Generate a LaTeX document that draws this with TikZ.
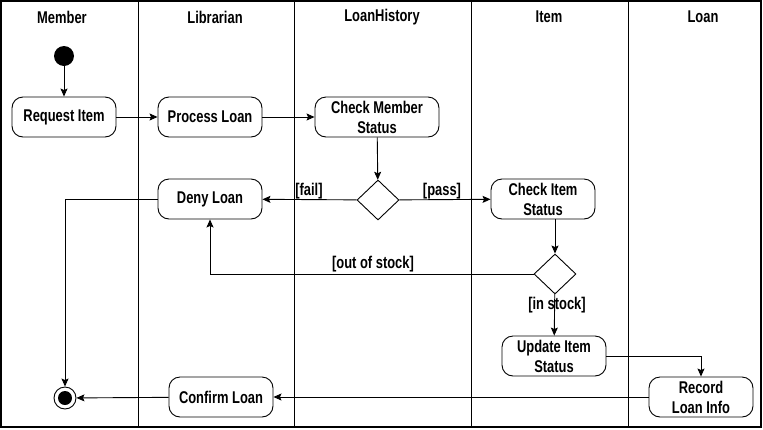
\documentclass[tikz,border=0pt]{standalone}
\usepackage{fontspec}
\setmainfont{Liberation Sans}[FakeStretch=0.76]
\usetikzlibrary{arrows.meta,shapes.geometric}
\tikzset{
  act/.style={draw, line width=0.9pt, rounded corners=11pt, minimum width=104pt, minimum height=40pt,
    align=center, inner sep=2pt, font=\fontsize{17}{20}\selectfont\bfseries},
  dec/.style={draw, line width=0.9pt, diamond, minimum width=42pt, minimum height=40pt, inner sep=0pt},
  lbl/.style={font=\fontsize{17}{18}\selectfont\bfseries, inner sep=1pt},
  hdr/.style={font=\fontsize{17}{18}\selectfont\bfseries, inner sep=1pt},
  arr/.style={line width=0.9pt, -{Stealth[length=8pt,width=7pt,inset=1.5pt]}},
  lane/.style={line width=1pt},
}
\begin{document}
\begin{tikzpicture}[x=1pt,y=-1pt]
\useasboundingbox (0,0) rectangle (763,429);
% frame and lanes
\draw[line width=1.3pt] (1,1) rectangle (761,427);
\foreach \xx in {138,294,471,628} \draw[lane] (\xx,1) -- (\xx,427);
% headers
\node[hdr] (hm) at (62,17) {Member};
\node[hdr] (hl) at (215,17) {Librarian};
\node[hdr] (hh) at (382,17) {LoanHistory};
\node[hdr] (hi) at (549,17) {Item};
\node[hdr] (ho) at (703,17) {Loan};
% nodes
\node[circle, fill=black, minimum size=20pt, inner sep=0pt] (start) at (64,56) {};
\node[act] (req) at (64,117) {Request Item};
\node[act] (proc) at (210,117) {Process Loan};
\node[act, minimum width=124pt] (cms) at (377,117) {Check Member\\Status};
\node[dec] (d1) at (378,200) {};
\node[act] (deny) at (210,199) {Deny Loan};
\node[act] (cis) at (543,199) {Check Item\\Status};
\node[dec] (d2) at (555,274) {};
\node[act] (uis) at (554,356) {Update Item\\Status};
\node[act] (rli) at (701,397) {Record\\Loan Info};
\node[act] (conf) at (221,397) {Confirm Loan};
\node[circle, draw, line width=0.9pt, minimum size=22pt, inner sep=0pt] (endc) at (65,398) {};
\node[circle, fill=black, minimum size=14pt, inner sep=0pt] (endin) at (endc) {};
% connectors
\draw[arr] (start) -- (req);
\draw[arr] (req) -- (proc);
\draw[arr] (proc) -- (cms);
\draw[arr] (cms) -- (d1);
\draw[arr] (d1) -- (deny);
\draw[arr] (d1) -- (cis);
\draw[arr] (d2 |- cis.south) -- (d2.north);
\draw[arr] (d2.west) -| (deny.south);
\draw[arr] (d2) -- (uis);
\draw[arr] (uis.east) -| (rli.north);
\draw[arr] (rli) -- (conf);
\draw[arr] (conf) -- (endc);
\draw[arr] (deny.west) -| (endc.north);
% guard labels
\node[lbl] (lfail) at (309,191) {[fail]};
\node[lbl] (lpass) at (442,191) {[pass]};
\node[lbl] (lout) at (373,264) {[out of stock]};
\node[lbl] (lin) at (557,305) {[in stock]};
\end{tikzpicture}
\end{document}
